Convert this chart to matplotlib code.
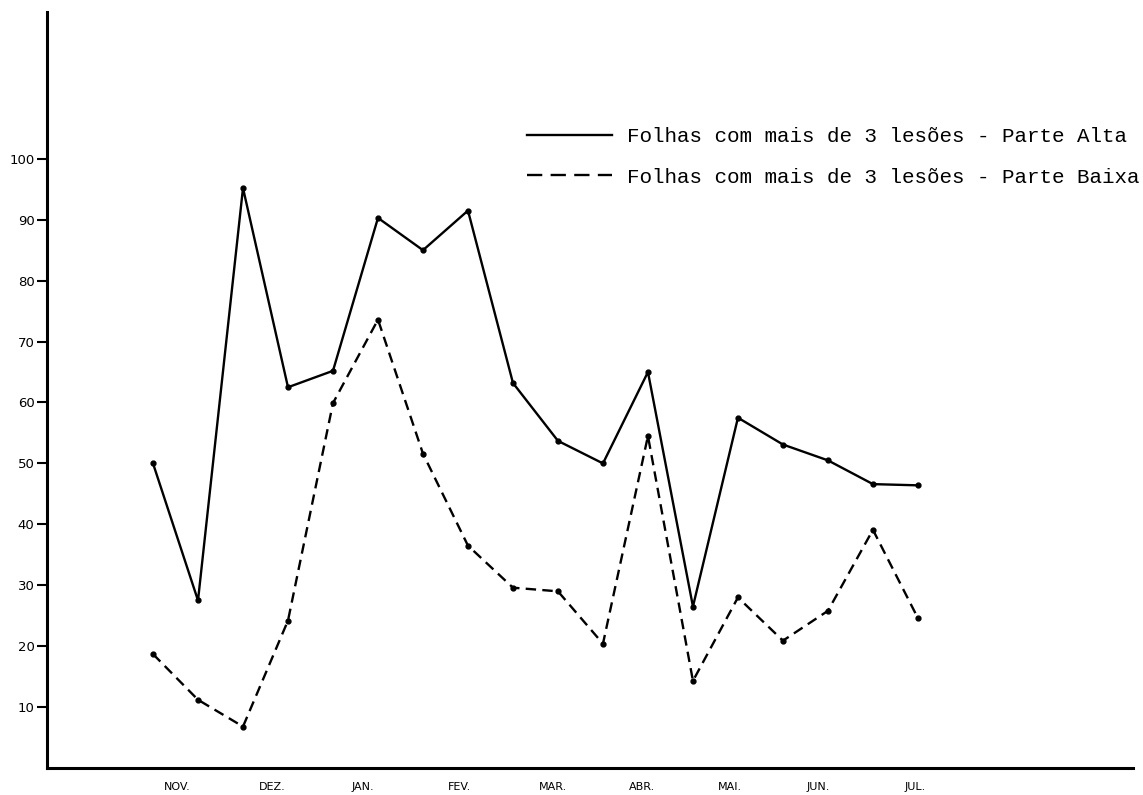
import matplotlib
matplotlib.use("Agg")
import matplotlib.pyplot as plt
from matplotlib.lines import Line2D

plt.rcParams['lines.scale_dashes'] = False

# Data
alta = [50.0, 27.5, 95.2, 62.5, 65.2, 90.3, 85.0, 91.5, 63.2, 53.7, 50.0, 65.0,
        26.5, 57.5, 53.1, 50.5, 46.6, 46.4]
baixa = [18.7, 11.2, 6.8, 24.2, 59.9, 73.6, 51.6, 36.5, 29.6, 29.0, 20.4, 54.5,
         14.3, 28.0, 20.9, 25.8, 39.1, 24.6]
x_idx = list(range(len(alta)))
months = ["NOV.", "DEZ.", "JAN.", "FEV.", "MAR.", "ABR.", "MAI.", "JUN.", "JUL."]
month_pos = [0.53, 2.64, 4.67, 6.82, 8.89, 10.87, 12.82, 14.78, 16.93]
yticks = [10, 20, 30, 40, 50, 60, 70, 80, 90, 100]
label_alta = "Folhas com mais de 3 lesões - Parte Alta"
label_baixa = "Folhas com mais de 3 lesões - Parte Baixa"

W, H = 1143, 795
fig = plt.figure(figsize=(W / 100, H / 100), dpi=100)
left, right, bottom, top = 47, 1133, 768, 12
ax = fig.add_axes([left / W, (H - bottom) / H, (right - left) / W, (bottom - top) / H])

ax.plot(x_idx, alta, color="black", lw=1.7, marker="o", ms=3.5)
ax.plot(x_idx, baixa, color="black", lw=1.7, marker="o", ms=3.5,
        linestyle=(0, (7.5, 4.5)))

ax.set_xlim(-2.356, 21.78)
ax.set_ylim(0, 124.1)

for s in ["top", "right"]:
    ax.spines[s].set_visible(False)
for s in ["left", "bottom"]:
    ax.spines[s].set_linewidth(2.2)

ax.set_yticks(yticks)
ax.set_yticklabels([str(v) for v in yticks], fontsize=9.5, family="DejaVu Sans")
ax.tick_params(axis="y", direction="out", length=7, width=1.5, pad=2)
ax.set_xticks(month_pos)
ax.set_xticklabels(months, fontsize=8, family="DejaVu Sans")
ax.tick_params(axis="x", length=0, pad=10)

handles = [Line2D([], [], color="black", lw=1.7),
           Line2D([], [], color="black", lw=1.7, linestyle=(0, (11, 6)))]
ax.legend(handles, [label_alta, label_baixa], loc="upper left",
          bbox_to_anchor=((527 - left) / (right - left), (bottom - 127) / (bottom - top)),
          frameon=False, borderpad=0, borderaxespad=0,
          handlelength=4.1, handletextpad=0.7, labelspacing=1.04,
          prop={"family": "Liberation Mono", "size": 15})

fig.savefig("out.png", dpi=100)
